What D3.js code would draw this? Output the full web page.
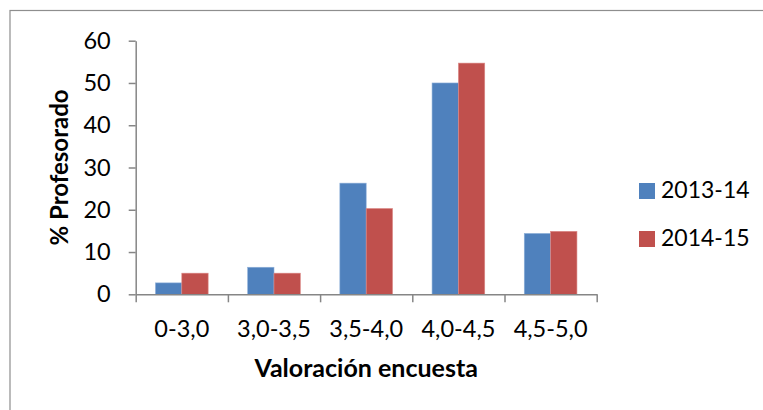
<!DOCTYPE html>
<html>
<head>
<meta charset="utf-8">
<script src="https://cdn.jsdelivr.net/npm/d3@7"></script>
<style>
  body { margin: 0; background: #fff; }
  svg { display: block; font-family: Lato, "Open Sans", sans-serif; }
</style>
</head>
<body>
<script>
// chart data
var categories = ["0-3,0", "3,0-3,5", "3,5-4,0", "4,0-4,5", "4,5-5,0"];
var series = ["2013-14", "2014-15"];
var values2013 = [2.7, 6.4, 26.3, 50.0, 14.4];
var values2014 = [5.0, 5.0, 20.3, 54.7, 14.9];
var yTicks = [0, 10, 20, 30, 40, 50, 60];
var colors = ["#4F81BD", "#C0504D"];
var strokes = ["#8fb0d9", "#dc8a88"];

var width = 763, height = 410;
var plot = {left: 135.7, right: 596.7, top: 40.7, bottom: 294.3};

var svg = d3.select("body").append("svg")
    .attr("width", width)
    .attr("height", height);

// outer chart frame
svg.append("rect")
    .attr("x", 10).attr("y", 10.5)
    .attr("width", 800).attr("height", 450)
    .attr("fill", "none")
    .attr("stroke", "#8e8e8e")
    .attr("stroke-width", 1.2);

var x = d3.scaleBand()
    .domain(categories)
    .range([plot.left, plot.right])
    .padding(0);

var xs = d3.scaleBand()
    .domain(series)
    .range([0, x.bandwidth()])
    .paddingInner(0)
    .paddingOuter(0.75);

var y = d3.scaleLinear()
    .domain([0, 60])
    .range([plot.bottom, plot.top]);

var rows = categories.map(function(c, i) {
  return {cat: c, vals: [values2013[i], values2014[i]]};
});

// bars
var groups = svg.selectAll(".grp")
    .data(rows)
    .enter().append("g")
    .attr("class", "grp")
    .attr("transform", function(d) { return "translate(" + x(d.cat) + ",0)"; });

groups.selectAll("rect")
    .data(function(d) { return d.vals.map(function(v, j) { return {s: series[j], v: v, j: j}; }); })
    .enter().append("rect")
    .attr("x", function(d) { return xs(d.s); })
    .attr("width", xs.bandwidth())
    .attr("y", function(d) { return y(d.v); })
    .attr("height", function(d) { return plot.bottom - y(d.v); })
    .attr("fill", function(d) { return colors[d.j]; })
    .attr("stroke", function(d) { return strokes[d.j]; })
    .attr("stroke-width", 0.6);

// y axis
var yAxis = svg.append("g")
    .attr("transform", "translate(" + plot.left + ",0)")
    .call(d3.axisLeft(y).tickValues(yTicks).tickSize(7).tickSizeOuter(0).tickPadding(18));

// x axis: ticks between categories
var xEdges = d3.scaleLinear().domain([0, categories.length]).range([plot.left, plot.right]);
var xAxis = svg.append("g")
    .attr("transform", "translate(0," + plot.bottom + ")")
    .call(d3.axisBottom(xEdges).tickValues(d3.range(categories.length + 1)).tickSize(8).tickSizeOuter(0).tickFormat(""));

var xLabels = svg.append("g")
    .attr("transform", "translate(0," + plot.bottom + ")")
    .call(d3.axisBottom(x).tickSize(0).tickPadding(26.5));
xLabels.select(".domain").remove();

[yAxis, xAxis, xLabels].forEach(function(g) {
  g.selectAll(".domain, line").attr("stroke", "#868686").attr("stroke-width", 1.5);
  g.selectAll("text").attr("font-size", 23.5).attr("fill", "#000")
    .attr("font-family", "Lato, 'Open Sans', sans-serif");
});

// axis titles
svg.append("text")
    .attr("transform", "translate(68," + ((plot.top + plot.bottom) / 2) + ") rotate(-90)")
    .attr("text-anchor", "middle")
    .attr("font-weight", "bold")
    .attr("font-size", 24)
    .text("% Profesorado");

svg.append("text")
    .attr("x", (plot.left + plot.right) / 2)
    .attr("y", 377)
    .attr("text-anchor", "middle")
    .attr("font-weight", "bold")
    .attr("font-size", 25)
    .text("Valoración encuesta");

// legend
var legend = svg.selectAll(".legend")
    .data(series)
    .enter().append("g")
    .attr("class", "legend")
    .attr("transform", function(d, i) { return "translate(639," + (183 + i * 48) + ")"; });

legend.append("rect")
    .attr("width", 16).attr("height", 16)
    .attr("fill", function(d, i) { return colors[i]; });

legend.append("text")
    .attr("x", 22)
    .attr("y", 15)
    .attr("font-size", 23)
    .text(function(d) { return d; });
</script>
</body>
</html>
